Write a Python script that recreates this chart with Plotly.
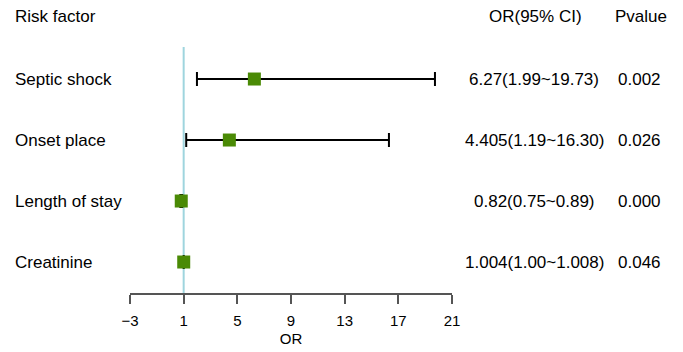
import plotly.graph_objects as go

factors = ["Septic shock", "Onset place", "Length of stay", "Creatinine"]
or_vals = [6.27, 4.405, 0.82, 1.004]
ci_low = [1.99, 1.19, 0.75, 1.00]
ci_high = [19.73, 16.30, 0.89, 1.008]
or_text = ["6.27(1.99~19.73)", "4.405(1.19~16.30)", "0.82(0.75~0.89)", "1.004(1.00~1.008)"]
pvals = ["0.002", "0.026", "0.000", "0.046"]
tick_vals = [-3, 1, 5, 9, 13, 17, 21]

rows = [4, 3, 2, 1]
W, H = 683, 352
ml, mr, mt, mb = 130, 231, 47, 59
pw, ph = W - ml - mr, H - mt - mb

def px_to_paper_x(px):
    return (px - ml) / pw

def px_to_paper_y(py):
    return (H - mb - py) / ph

FONT = "Liberation Sans, Arial, sans-serif"

fig = go.Figure()
fig.add_trace(go.Scatter(
    x=or_vals, y=rows, mode="markers",
    marker=dict(symbol="square", size=13, color="#4a8a05", line=dict(width=0)),
    error_x=dict(type="data", symmetric=False,
                 array=[h - o for h, o in zip(ci_high, or_vals)],
                 arrayminus=[o - l for o, l in zip(or_vals, ci_low)],
                 color="black", thickness=2, width=7),
    showlegend=False, hoverinfo="skip", cliponaxis=False,
))

fig.add_shape(type="line", xref="x", yref="paper", x0=1, x1=1, y0=0, y1=1,
              line=dict(color="#9fd5de", width=2), layer="below")

annotations = []
def add_text(text, px, py, align="left"):
    annotations.append(dict(text=text, xref="paper", yref="paper",
                            x=px_to_paper_x(px), y=px_to_paper_y(py),
                            xanchor=align, yanchor="middle", showarrow=False,
                            font=dict(family=FONT, size=17, color="black")))

add_text("Risk factor", 13, 17, "left")
add_text("OR(95% CI)", 535, 17, "center")
add_text("Pvalue", 641, 17, "center")

row_px = [79, 140, 201, 262]
for f, t, p, py in zip(factors, or_text, pvals, row_px):
    add_text(f, 13, py, "left")
    add_text(t, 534, py, "center")
    add_text(p, 639, py, "center")

fig.update_layout(
    width=W, height=H,
    margin=dict(l=ml, r=mr, t=mt, b=mb, pad=0, autoexpand=False),
    paper_bgcolor="white", plot_bgcolor="white",
    annotations=annotations,
    xaxis=dict(range=[-3, 21], tickvals=tick_vals, showgrid=False, zeroline=False,
               automargin=False,
               showline=True, linecolor="#555555", linewidth=2,
               ticks="outside", ticklen=9, tickwidth=2, tickcolor="#555555",
               ticklabelstandoff=4,
               tickfont=dict(family=FONT, size=15, color="black"),
               title=dict(text="OR", font=dict(family=FONT, size=15, color="black"), standoff=5)),
    yaxis=dict(range=[0.492, 4.525], visible=False, showgrid=False, zeroline=False),
    font=dict(family=FONT),
)

fig.write_html("out.html", config={"displayModeBar": False, "staticPlot": True},
               post_script="document.body.style.margin='0';document.body.style.overflow='hidden';")
